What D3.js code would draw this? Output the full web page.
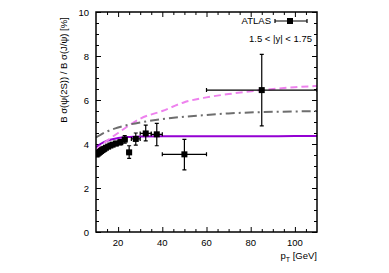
<!DOCTYPE html>
<html>
<head>
<meta charset="utf-8">
<script src="https://cdn.jsdelivr.net/npm/d3@7"></script>
<style>
body { margin: 0; background: #fff; }
text { font-family: "Liberation Sans", Arial, sans-serif; }
</style>
</head>
<body>
<div id="chart"></div>
<script>
// ATLAS points, 1.5 < |y| < 1.75
var ptCenter = [10.25, 10.75, 11.25, 11.75, 12.25, 12.75, 13.25, 13.75, 14.5, 15.5, 16.5, 17.5, 19, 21, 23, 25, 28, 32.5, 37.5, 50, 85];
var ptLow    = [10, 10.5, 11, 11.5, 12, 12.5, 13, 13.5, 14, 15, 16, 17, 18, 20, 22, 24, 26, 30, 35, 40, 60];
var ptHigh   = [10.5, 11, 11.5, 12, 12.5, 13, 13.5, 14, 15, 16, 17, 18, 20, 22, 24, 26, 30, 35, 40, 60, 110];
var ratio    = [3.52, 3.56, 3.6, 3.64, 3.68, 3.72, 3.75, 3.78, 3.83, 3.88, 3.93, 3.97, 4.02, 4.08, 4.2, 3.62, 4.23, 4.48, 4.44, 3.53, 6.45];
var errUp    = [0.06, 0.06, 0.06, 0.06, 0.06, 0.06, 0.06, 0.07, 0.07, 0.07, 0.08, 0.08, 0.1, 0.12, 0.18, 0.3, 0.27, 0.38, 0.5, 0.68, 1.62];
var errDown  = [0.06, 0.06, 0.06, 0.06, 0.06, 0.06, 0.06, 0.07, 0.07, 0.07, 0.08, 0.08, 0.1, 0.12, 0.16, 0.27, 0.28, 0.34, 0.52, 0.71, 1.63];

// theory curves
var curvePt  = [10, 12, 15, 20, 25, 30, 40, 50, 60, 70, 85, 100, 110];
var purple   = [3.85, 4.0, 4.15, 4.27, 4.32, 4.34, 4.35, 4.35, 4.35, 4.35, 4.35, 4.36, 4.36];
var pink     = [3.7, 3.9, 4.15, 4.5, 4.85, 5.15, 5.5, 5.9, 6.12, 6.27, 6.45, 6.58, 6.64];
var gray     = [4.3, 4.42, 4.57, 4.75, 4.88, 4.98, 5.13, 5.24, 5.32, 5.39, 5.45, 5.48, 5.5];

var xTicks = [20, 40, 60, 80, 100];
var yTicks = [0, 2, 4, 6, 8, 10];

var width = 389, height = 273;
var margin = { top: 12, right: 72, bottom: 41, left: 96 };
var iw = width - margin.left - margin.right;
var ih = height - margin.top - margin.bottom;

var svg = d3.select('#chart').append('svg')
	.attr('width', width)
	.attr('height', height);

var x = d3.scaleLinear().domain([10, 110]).range([0, iw]);
var y = d3.scaleLinear().domain([0, 10]).range([ih, 0]);

var g = svg.append('g').attr('transform', 'translate(' + margin.left + ',' + margin.top + ')');

g.append('clipPath').attr('id', 'clip')
	.append('rect').attr('width', iw).attr('height', ih);

// ticks inward on all four sides
var xMinor = d3.range(15, 110, 5).filter(function(d){ return xTicks.indexOf(d) < 0; });
var yMinor = d3.range(0.5, 10, 0.5).filter(function(d){ return yTicks.indexOf(d) < 0; });

function tickAxis(axis, ticks, len, tr) {
	g.append('g')
		.attr('transform', tr)
		.call(axis.tickValues(ticks).tickSize(len).tickFormat(''))
		.call(function(s){ s.select('.domain').remove(); })
		.selectAll('line').attr('stroke', '#000');
}
tickAxis(d3.axisTop(x), xTicks, 5, 'translate(0,' + ih + ')');
tickAxis(d3.axisTop(x), xMinor, 3, 'translate(0,' + ih + ')');
tickAxis(d3.axisBottom(x), xTicks, 5, 'translate(0,0)');
tickAxis(d3.axisBottom(x), xMinor, 3, 'translate(0,0)');
tickAxis(d3.axisRight(y), yTicks, 5, 'translate(0,0)');
tickAxis(d3.axisRight(y), yMinor, 3, 'translate(0,0)');
tickAxis(d3.axisLeft(y), yTicks, 5, 'translate(' + iw + ',0)');
tickAxis(d3.axisLeft(y), yMinor, 3, 'translate(' + iw + ',0)');

// tick labels
g.selectAll('.xlab').data(xTicks).enter().append('text')
	.attr('x', function(d){ return x(d); })
	.attr('y', ih + 14)
	.attr('text-anchor', 'middle')
	.attr('font-size', '9.5px')
	.text(function(d){ return d; });
g.selectAll('.ylab').data(yTicks).enter().append('text')
	.attr('x', -7)
	.attr('y', function(d){ return y(d) + 3.5; })
	.attr('text-anchor', 'end')
	.attr('font-size', '9.5px')
	.text(function(d){ return d; });

// axis titles
var xt = svg.append('text')
	.attr('x', margin.left + iw)
	.attr('y', 259)
	.attr('text-anchor', 'end')
	.attr('font-size', '9.5px');
xt.append('tspan').text('p');
xt.append('tspan').attr('font-size', '7px').attr('dy', 2.5).text('T');
xt.append('tspan').attr('dy', -2.5).text(' [GeV]');

svg.append('text')
	.attr('transform', 'translate(67,70) rotate(-90)')
	.attr('text-anchor', 'middle')
	.attr('font-size', '9.5px')
	.text('B σ(ψ(2S)) / B σ(J/ψ) [%]');

// curves
var line = d3.line()
	.x(function(d){ return x(d[0]); })
	.y(function(d){ return y(d[1]); })
	.curve(d3.curveMonotoneX);

var curves = g.append('g').attr('clip-path', 'url(#clip)');
curves.append('path')
	.attr('d', line(d3.zip(curvePt, purple)))
	.attr('fill', 'none').attr('stroke', '#9400d3').attr('stroke-width', 2);
curves.append('path')
	.attr('d', line(d3.zip(curvePt, pink)))
	.attr('fill', 'none').attr('stroke', '#ee82ee').attr('stroke-width', 2)
	.attr('stroke-dasharray', '7,4');
curves.append('path')
	.attr('d', line(d3.zip(curvePt, gray)))
	.attr('fill', 'none').attr('stroke', '#6e6e6e').attr('stroke-width', 2)
	.attr('stroke-dasharray', '9,4,2,4');

// data points
var pts = d3.range(ptCenter.length).map(function(i){
	return { x: ptCenter[i], lo: ptLow[i], hi: ptHigh[i], v: ratio[i], up: errUp[i], dn: errDown[i] };
});
var pg = g.append('g').attr('clip-path', 'url(#clip)');
var cap = 2;
pg.selectAll('.eb').data(pts).enter().append('path')
	.attr('fill', 'none').attr('stroke', '#000').attr('stroke-width', 1.2)
	.attr('d', function(d){
		var cx = x(d.x), cy = y(d.v);
		var t = y(d.v + d.up), b = y(d.v - d.dn);
		var l = x(d.lo), r = x(d.hi);
		return 'M' + cx + ',' + t + 'V' + b +
			'M' + (cx - cap) + ',' + t + 'H' + (cx + cap) +
			'M' + (cx - cap) + ',' + b + 'H' + (cx + cap) +
			'M' + l + ',' + cy + 'H' + r +
			'M' + l + ',' + (cy - cap) + 'V' + (cy + cap) +
			'M' + r + ',' + (cy - cap) + 'V' + (cy + cap);
	});
pg.selectAll('.pt').data(pts).enter().append('rect')
	.attr('x', function(d){ return x(d.x) - 3; })
	.attr('y', function(d){ return y(d.v) - 3; })
	.attr('width', 6).attr('height', 6)
	.attr('fill', '#000');

// frame
g.append('rect')
	.attr('width', iw).attr('height', ih)
	.attr('fill', 'none').attr('stroke', '#000').attr('stroke-width', 1.5);

// legend
svg.append('text')
	.attr('x', 271).attr('y', 24)
	.attr('text-anchor', 'end')
	.attr('font-size', '9.5px')
	.text('ATLAS');
svg.append('path')
	.attr('fill', 'none').attr('stroke', '#000').attr('stroke-width', 1.2)
	.attr('d', 'M275,21H307M275,19V23M307,19V23');
svg.append('rect')
	.attr('x', 287).attr('y', 18).attr('width', 6).attr('height', 6).attr('fill', '#000');
svg.append('text')
	.attr('x', 312).attr('y', 42)
	.attr('text-anchor', 'end')
	.attr('font-size', '9.5px')
	.text('1.5 < |y| < 1.75');
</script>
</body>
</html>
